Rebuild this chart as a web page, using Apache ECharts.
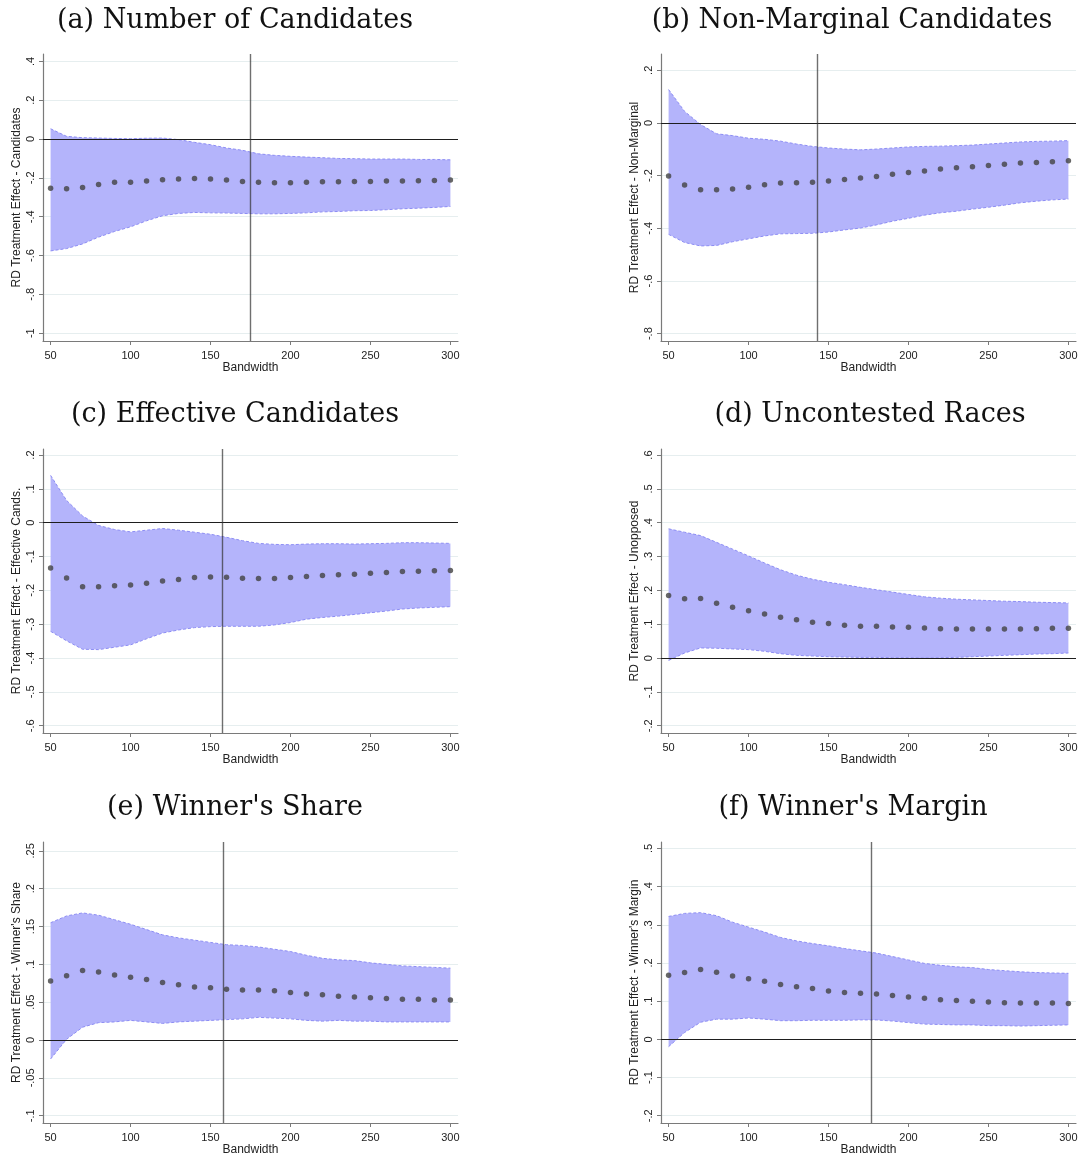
<!DOCTYPE html>
<html>
<head>
<meta charset="utf-8">
<script src="https://cdn.jsdelivr.net/npm/echarts@6.0.0/dist/echarts.min.js"></script>
<style>
  html, body { margin: 0; padding: 0; background: #fff; }
  #chart { width: 1083px; height: 1157px; }
</style>
</head>
<body>
<div id="chart"></div>
<script>
// bandwidths used in every panel
const bandwidth = [50, 60, 70, 80, 90, 100, 110, 120, 130, 140, 150, 160, 170, 180, 190, 200, 210, 220, 230, 240, 250, 260, 270, 280, 290, 300];
const xTicks = [50, 100, 150, 200, 250, 300];

// (a) Number of Candidates
const estA = [-0.254, -0.256, -0.249, -0.234, -0.223, -0.222, -0.216, -0.210, -0.206, -0.203, -0.206, -0.211, -0.218, -0.223, -0.225, -0.225, -0.223, -0.220, -0.220, -0.218, -0.218, -0.216, -0.216, -0.215, -0.213, -0.211];
const upA = [0.053, 0.014, 0.007, 0.005, 0.003, 0.002, 0.004, 0.005, -0.003, -0.017, -0.029, -0.046, -0.058, -0.076, -0.084, -0.089, -0.093, -0.096, -0.100, -0.101, -0.103, -0.103, -0.103, -0.105, -0.105, -0.107];
const loA = [-0.576, -0.564, -0.540, -0.505, -0.476, -0.452, -0.421, -0.395, -0.383, -0.378, -0.380, -0.381, -0.383, -0.385, -0.385, -0.383, -0.380, -0.375, -0.373, -0.369, -0.368, -0.364, -0.359, -0.356, -0.352, -0.347];
const ticksA = [-1, -0.8, -0.6, -0.4, -0.2, 0, 0.2, 0.4];

// (b) Non-Marginal Candidates
const estB = [-0.201, -0.236, -0.254, -0.254, -0.251, -0.244, -0.235, -0.228, -0.227, -0.225, -0.220, -0.215, -0.209, -0.203, -0.195, -0.188, -0.182, -0.175, -0.170, -0.166, -0.161, -0.157, -0.152, -0.150, -0.147, -0.143];
const upB = [0.127, 0.044, -0.006, -0.041, -0.048, -0.058, -0.062, -0.069, -0.080, -0.089, -0.095, -0.099, -0.102, -0.099, -0.095, -0.091, -0.089, -0.088, -0.086, -0.084, -0.080, -0.076, -0.072, -0.070, -0.069, -0.067];
const loB = [-0.423, -0.454, -0.467, -0.465, -0.451, -0.440, -0.429, -0.421, -0.420, -0.419, -0.414, -0.406, -0.399, -0.387, -0.373, -0.362, -0.350, -0.341, -0.335, -0.327, -0.320, -0.312, -0.303, -0.297, -0.292, -0.289];
const ticksB = [-0.8, -0.6, -0.4, -0.2, 0, 0.2];

// (c) Effective Candidates
const estC = [-0.134, -0.163, -0.189, -0.189, -0.186, -0.184, -0.179, -0.172, -0.168, -0.162, -0.160, -0.161, -0.164, -0.165, -0.165, -0.162, -0.159, -0.156, -0.154, -0.152, -0.149, -0.147, -0.144, -0.143, -0.142, -0.141];
const upC = [0.140, 0.066, 0.020, -0.008, -0.020, -0.027, -0.022, -0.017, -0.022, -0.028, -0.034, -0.043, -0.053, -0.061, -0.064, -0.065, -0.063, -0.062, -0.062, -0.063, -0.062, -0.061, -0.059, -0.059, -0.060, -0.061];
const loC = [-0.321, -0.349, -0.374, -0.375, -0.368, -0.361, -0.343, -0.326, -0.317, -0.310, -0.307, -0.306, -0.306, -0.306, -0.302, -0.295, -0.285, -0.280, -0.276, -0.271, -0.266, -0.261, -0.255, -0.252, -0.250, -0.248];
const ticksC = [-0.6, -0.5, -0.4, -0.3, -0.2, -0.1, 0, 0.1, 0.2];

// (d) Uncontested Races
const estD = [0.185, 0.175, 0.176, 0.162, 0.150, 0.140, 0.130, 0.121, 0.113, 0.106, 0.102, 0.097, 0.094, 0.094, 0.092, 0.091, 0.089, 0.087, 0.086, 0.086, 0.086, 0.086, 0.086, 0.087, 0.088, 0.088];
const upD = [0.382, 0.372, 0.362, 0.342, 0.322, 0.302, 0.281, 0.261, 0.245, 0.233, 0.224, 0.217, 0.209, 0.202, 0.195, 0.188, 0.181, 0.177, 0.174, 0.172, 0.170, 0.168, 0.167, 0.165, 0.164, 0.163];
const loD = [-0.007, 0.015, 0.030, 0.029, 0.027, 0.025, 0.020, 0.013, 0.008, 0.006, 0.004, 0.003, 0.002, 0.002, 0.001, 0.001, 0.000, 0.001, 0.002, 0.004, 0.006, 0.008, 0.010, 0.012, 0.013, 0.015];
const ticksD = [-0.2, -0.1, 0, 0.1, 0.2, 0.3, 0.4, 0.5, 0.6];

// (e) Winner's Share
const estE = [0.078, 0.085, 0.092, 0.090, 0.086, 0.083, 0.080, 0.076, 0.073, 0.070, 0.069, 0.067, 0.066, 0.066, 0.065, 0.063, 0.061, 0.060, 0.058, 0.057, 0.056, 0.055, 0.054, 0.054, 0.053, 0.053];
const upE = [0.155, 0.164, 0.168, 0.165, 0.159, 0.153, 0.146, 0.139, 0.135, 0.132, 0.129, 0.126, 0.125, 0.123, 0.120, 0.117, 0.112, 0.108, 0.106, 0.105, 0.102, 0.100, 0.098, 0.097, 0.096, 0.095];
const loE = [-0.025, 0.001, 0.017, 0.023, 0.024, 0.026, 0.024, 0.022, 0.024, 0.025, 0.026, 0.027, 0.028, 0.030, 0.029, 0.028, 0.026, 0.025, 0.026, 0.025, 0.025, 0.024, 0.024, 0.024, 0.024, 0.024];
const ticksE = [-0.1, -0.05, 0, 0.05, 0.1, 0.15, 0.2, 0.25];

// (f) Winner's Margin
const estF = [0.168, 0.175, 0.183, 0.176, 0.166, 0.159, 0.152, 0.144, 0.138, 0.133, 0.127, 0.123, 0.121, 0.119, 0.115, 0.111, 0.108, 0.104, 0.102, 0.100, 0.098, 0.096, 0.095, 0.095, 0.095, 0.094];
const upF = [0.322, 0.330, 0.332, 0.324, 0.307, 0.294, 0.281, 0.267, 0.258, 0.251, 0.245, 0.238, 0.232, 0.226, 0.217, 0.208, 0.199, 0.194, 0.190, 0.188, 0.183, 0.180, 0.177, 0.175, 0.174, 0.173];
const loF = [-0.019, 0.018, 0.045, 0.053, 0.053, 0.056, 0.053, 0.049, 0.049, 0.050, 0.050, 0.050, 0.051, 0.051, 0.048, 0.044, 0.040, 0.039, 0.038, 0.038, 0.036, 0.036, 0.035, 0.036, 0.037, 0.038];
const ticksF = [-0.2, -0.1, 0, 0.1, 0.2, 0.3, 0.4, 0.5];

const titles = ['(a) Number of Candidates', '(b) Non-Marginal Candidates', '(c) Effective Candidates',
  '(d) Uncontested Races', "(e) Winner's Share", "(f) Winner's Margin"];
const yNames = ['RD Treatment Effect - Candidates', 'RD Treatment Effect - Non-Marginal',
  'RD Treatment Effect - Effective Cands.', 'RD Treatment Effect - Unopposed',
  "RD Treatment Effect - Winner's Share", "RD Treatment Effect - Winner's Margin"];
// optimal bandwidth marked by the vertical line (none in panel d)
const optimalBw = [175, 143, 157.5, null, 157.7, 177];

const panels = [
  { est: estA, up: upA, lo: loA, ticks: ticksA, yMin: -1.04, yMax: 0.438 },
  { est: estB, up: upB, lo: loB, ticks: ticksB, yMin: -0.828, yMax: 0.262 },
  { est: estC, up: upC, lo: loC, ticks: ticksC, yMin: -0.6215, yMax: 0.218 },
  { est: estD, up: upD, lo: loD, ticks: ticksD, yMin: -0.2215, yMax: 0.618 },
  { est: estE, up: upE, lo: loE, ticks: ticksE, yMin: -0.1096, yMax: 0.2617 },
  { est: estF, up: upF, lo: loF, ticks: ticksF, yMin: -0.219, yMax: 0.517 },
];

// layout of the six plot areas
const grids = [
  { left: 43, top: 54, width: 415, height: 287 },
  { left: 661, top: 54, width: 415, height: 287 },
  { left: 43, top: 449, width: 415, height: 284 },
  { left: 661, top: 449, width: 415, height: 284 },
  { left: 43, top: 842, width: 415, height: 285 },
  { left: 661, top: 842, width: 415, height: 285 },
];
const titlePos = [[235, 21], [852, 21], [235, 415], [870, 415], [235, 808], [853, 808]];

const FILL = '#b4b4fb';
const EDGE = '#8d8df4';
const DOT = '#424242';
const GRIDLINE = '#e6eeef';
const AXIS = '#7a7a7a';
const SANS = 'Liberation Sans, Arial, sans-serif';

const stataLabel = (v) => {
  const s = String(Math.round(v * 1000) / 1000);
  return s.replace(/^(-?)0\./, '$1.');
};

// confidence band drawn as one polygon through the axis scales
const bandRenderer = (p) => (params, api) => {
  if (params.dataIndex !== 0) return null;
  const upper = bandwidth.map((b, k) => api.coord([b, p.up[k]]));
  const lower = bandwidth.map((b, k) => api.coord([b, p.lo[k]]));
  const edge = { stroke: EDGE, lineWidth: 1, lineDash: [3, 2], fill: null };
  return {
    type: 'group',
    children: [
      { type: 'polygon', shape: { points: upper.concat(lower.slice().reverse()) }, style: { fill: FILL } },
      { type: 'polyline', shape: { points: upper }, style: edge },
      { type: 'polyline', shape: { points: lower }, style: edge },
    ],
  };
};

const chart = echarts.init(document.getElementById('chart'), null, { renderer: 'canvas' });

const xAxis = [];
const yAxis = [];
const series = [];

panels.forEach((p, i) => {
  xAxis.push({
    type: 'value', gridIndex: i, min: 45.25, max: 304.75,
    name: 'Bandwidth', nameLocation: 'middle', nameGap: 21,
    nameTextStyle: { fontFamily: SANS, fontSize: 12, color: '#222' },
    axisLine: { show: true, onZero: false, lineStyle: { color: AXIS, width: 1.2 } },
    axisTick: { show: true, length: 4, customValues: xTicks, lineStyle: { color: AXIS } },
    axisLabel: { customValues: xTicks, margin: 9, fontFamily: SANS, fontSize: 11, color: '#222' },
    splitLine: { show: false },
  });
  yAxis.push({
    type: 'value', gridIndex: i, min: p.yMin, max: p.yMax,
    name: yNames[i], nameLocation: 'middle', nameGap: 20,
    nameTextStyle: { fontFamily: SANS, fontSize: 12, color: '#222' },
    axisLine: { show: true, onZero: false, lineStyle: { color: AXIS, width: 1.2 } },
    axisTick: { show: true, length: 4, customValues: p.ticks, lineStyle: { color: AXIS } },
    axisLabel: { customValues: p.ticks, rotate: 90, margin: 7, fontFamily: SANS, fontSize: 11, color: '#222', formatter: stataLabel },
    splitLine: { show: true, lineStyle: { color: GRIDLINE, width: 1 } },
  });

  series.push({
    type: 'custom', xAxisIndex: i, yAxisIndex: i,
    data: bandwidth.map((b, k) => [b, p.lo[k], p.up[k]]),
    encode: { x: 0, y: [1, 2] },
    renderItem: bandRenderer(p),
    silent: true, z: 1,
  });

  const marks = [{ yAxis: 0, lineStyle: { color: '#1e1e1e', width: 1, type: 'solid' } }];
  if (optimalBw[i] !== null) {
    marks.push({ xAxis: optimalBw[i], lineStyle: { color: 'rgba(50,50,50,0.7)', width: 1.4, type: 'solid' } });
  }
  // point estimates
  series.push({
    type: 'scatter', xAxisIndex: i, yAxisIndex: i,
    data: bandwidth.map((b, k) => [b, p.est[k]]),
    symbolSize: 5.5, itemStyle: { color: DOT }, z: 3, silent: true,
    markLine: { silent: true, symbol: 'none', label: { show: false }, animation: false, data: marks },
  });
});

const graphic = titles.map((t, i) => ({
  type: 'text', x: titlePos[i][0], y: titlePos[i][1],
  style: {
    text: t, fill: '#111',
    font: '27px "DejaVu Serif", "Liberation Serif", serif',
    textAlign: 'center', textVerticalAlign: 'middle',
  },
}));

chart.setOption({
  animation: false,
  backgroundColor: '#fff',
  grid: grids,
  xAxis: xAxis,
  yAxis: yAxis,
  series: series,
  graphic: graphic,
});
</script>
</body>
</html>
